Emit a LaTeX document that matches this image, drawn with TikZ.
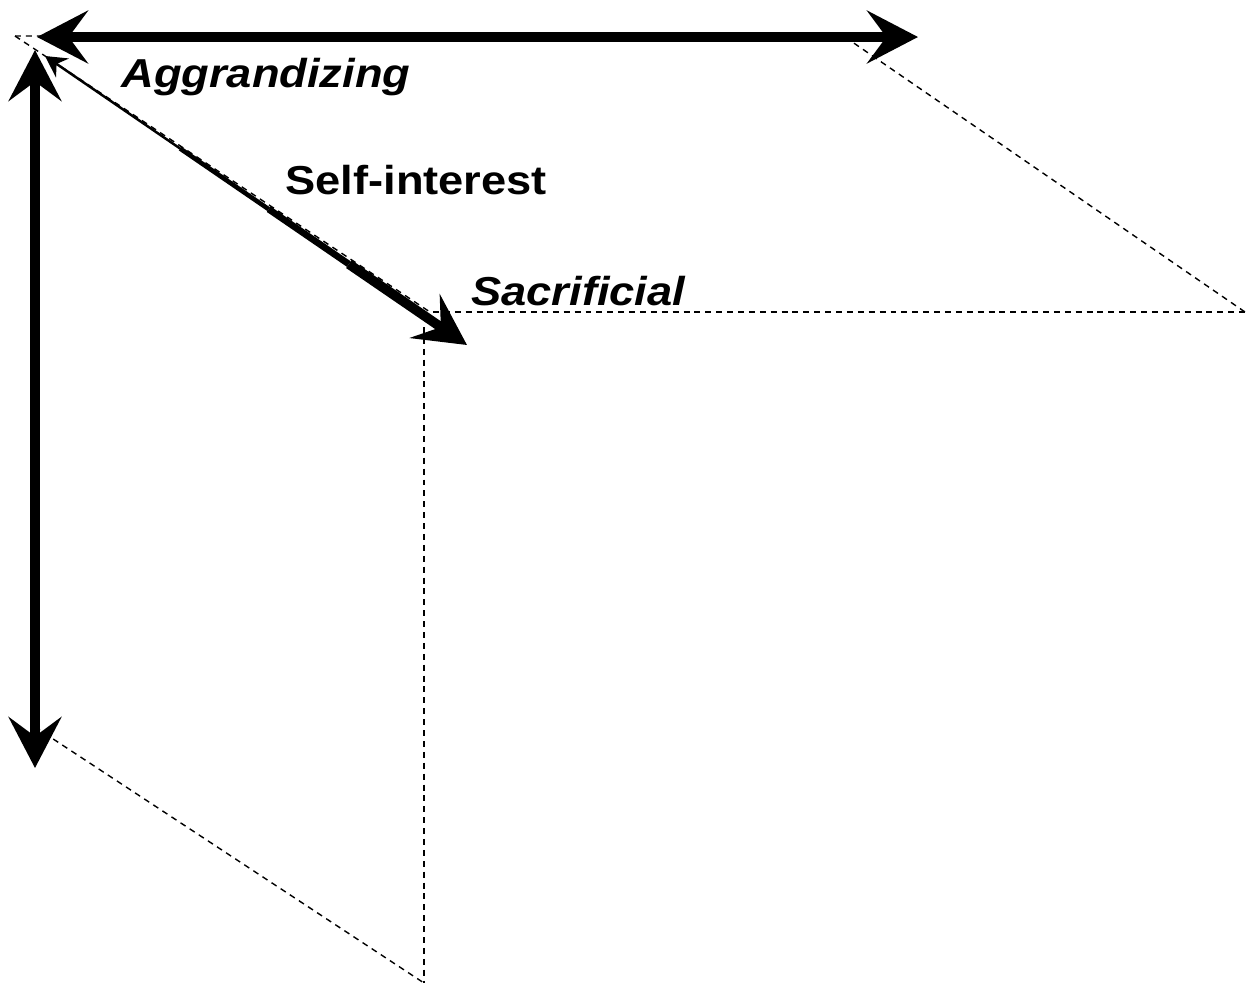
\documentclass[tikz,border=0pt]{standalone}
\usepackage{fontspec}
\newfontfamily\labelFont{Liberation Sans}[FakeStretch=1.12]
\usetikzlibrary{arrows.meta,calc}

\tikzset{
  bigTip/.tip={Stealth[length=29pt,width=30pt,inset=11pt]},
  smallTip/.tip={Stealth[length=12pt,width=13pt,inset=4pt]},
  axisArrow/.style={line width=5.5pt, bigTip-bigTip},
  hiddenEdge/.style={line width=0.8pt, dash pattern=on 3.4pt off 2.8pt},
  axisLabel/.style={anchor=base west, inner sep=0pt,
    font=\labelFont\fontsize{23}{27}\selectfont\bfseries\itshape},
  dimLabel/.style={anchor=base west, inner sep=0pt,
    font=\labelFont\fontsize{23}{27}\selectfont\bfseries},
}

\begin{document}
\begin{tikzpicture}[x=0.02cm,y=-0.02cm]
  \useasboundingbox (0,0) rectangle (1246,985);
  % Corners of the box
  \coordinate (frontTL) at (15,36);
  \coordinate (frontTR) at (845,37);
  \coordinate (frontBL) at (35,727);
  \coordinate (backTL) at (430,312);
  \coordinate (backTop) at (433,312);
  \coordinate (backSide) at (424,327);
  \coordinate (backTR) at (1245,312);
  \coordinate (backBL) at (424,983);
  % Hidden edges
  \draw[hiddenEdge] (frontTL) -- (frontTR);
  \draw[hiddenEdge] (frontTL) -- (backTL);
  \draw[hiddenEdge] (frontTR) -- (backTR);
  \draw[hiddenEdge] (frontBL) -- (backBL);
  \draw[hiddenEdge] (backTop) -- (backTR);
  \draw[hiddenEdge] (backSide) -- (backBL);
  % Axes
  \coordinate (hLeft) at (37,37);
  \coordinate (hRight) at (918,37);
  \coordinate (vTop) at (35,50);
  \coordinate (vBottom) at (35,768);
  \draw[axisArrow] (hLeft) -- (hRight);
  \draw[axisArrow] (vTop) -- (vBottom);
  % Self-interest axis, getting thicker
  \coordinate (dStart) at (45,56);
  \coordinate (dEnd) at (467,345);
  \coordinate (dA) at ($(dStart)!0.32!(dEnd)$);
  \coordinate (dB) at ($(dStart)!0.53!(dEnd)$);
  \coordinate (dC) at ($(dStart)!0.72!(dEnd)$);
  \draw[line width=1.4pt, smallTip-] (dStart) -- (dA);
  \draw[line width=2.6pt] (dA) -- (dB);
  \draw[line width=3.8pt] (dB) -- (dC);
  \draw[line width=5.5pt, -bigTip] (dC) -- (dEnd);
  % Labels
  \node[axisLabel] (aggrLabel) at (121,87) {Aggrandizing};
  \node[dimLabel] (selfLabel) at (285,194) {Self-interest};
  \node[axisLabel] (sacrLabel) at (471,305) {Sacrificial};
\end{tikzpicture}
\end{document}
